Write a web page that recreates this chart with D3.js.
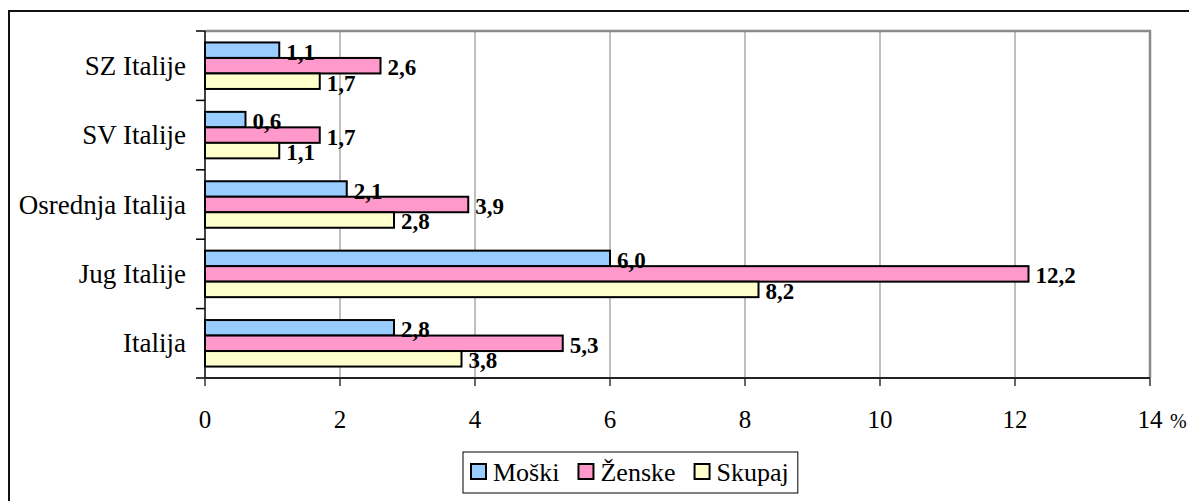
<!DOCTYPE html>
<html>
<head>
<meta charset="utf-8">
<script src="https://cdn.jsdelivr.net/npm/d3@7"></script>
<style>
html,body{margin:0;padding:0;background:#fff;}
</style>
</head>
<body>
<svg id="chart" width="1189" height="501"></svg>
<script>
const categories = ["SZ Italije", "SV Italije", "Osrednja Italija", "Jug Italije", "Italija"];
const seriesNames = ["Moški", "Ženske", "Skupaj"];
const moski  = [1.1, 0.6, 2.1, 6.0, 2.8];
const zenske = [2.6, 1.7, 3.9, 12.2, 5.3];
const skupaj = [1.7, 1.1, 2.8, 8.2, 3.8];
const xTicks = [0, 2, 4, 6, 8, 10, 12, 14];
const unitLabel = "%";
const colors = ["#99CCFF", "#FF99CC", "#FFFFCC"];

const seriesValues = [moski, zenske, skupaj];
const data = categories.map((c, i) => ({cat: c, vals: seriesNames.map((s, j) => ({s, v: seriesValues[j][i]}))}));

const svg = d3.select("#chart");
const L = 205, R = 1150, T = 31, B = 378;
const FF = "Liberation Serif";

// outer frame
svg.append("rect").attr("x", 9).attr("y", 11).attr("width", 1200).attr("height", 520)
  .attr("fill", "none").attr("stroke", "#111").attr("stroke-width", 2);

const x = d3.scaleLinear().domain([0, 14]).range([L, R]);
const y = d3.scaleBand().domain(categories).range([T, B]).paddingInner(0.33).paddingOuter(0.165);
const ys = d3.scaleBand().domain(seriesNames).range([0, y.bandwidth()]);

// gridlines
svg.append("g").selectAll("line").data(xTicks.filter(t => t > 0)).join("line")
  .attr("x1", d => x(d)).attr("x2", d => x(d)).attr("y1", T).attr("y2", B)
  .attr("stroke", "#808080").attr("stroke-width", 1);

// plot border (top & right)
svg.append("path").attr("d", `M${L},${T}H${R}V${B}`).attr("fill", "none")
  .attr("stroke", "#8a8a8a").attr("stroke-width", 2.5);

// bars
const g = svg.append("g").selectAll("g").data(data).join("g")
  .attr("transform", d => `translate(0,${y(d.cat)})`);
g.selectAll("rect").data(d => d.vals).join("rect")
  .attr("x", x(0)).attr("y", d => ys(d.s))
  .attr("width", d => x(d.v) - x(0)).attr("height", ys.bandwidth())
  .attr("fill", (d, i) => colors[i]).attr("stroke", "#000").attr("stroke-width", 2);
g.selectAll("text").data(d => d.vals).join("text")
  .attr("x", d => x(d.v) + 7).attr("y", d => ys(d.s) + ys.bandwidth() / 2 + 2)
  .attr("dominant-baseline", "central").style("font-family", FF)
  .attr("font-weight", "bold").attr("font-size", 23).attr("fill", "#000")
  .text(d => d3.format(".1f")(d.v).replace(".", ","));

// y axis
const yAxis = svg.append("g").attr("transform", `translate(${L},0)`);
yAxis.append("line").attr("x1", 0).attr("x2", 0).attr("y1", T).attr("y2", B)
  .attr("stroke", "#000").attr("stroke-width", 1.5);
const boundaries = d3.range(categories.length + 1).map(i => T + i * y.step());
yAxis.selectAll("line.t").data(boundaries).join("line").attr("class", "t")
  .attr("x1", -9).attr("x2", 0).attr("y1", d => d).attr("y2", d => d)
  .attr("stroke", "#000").attr("stroke-width", 1.5);
yAxis.selectAll("text").data(categories).join("text")
  .attr("x", -19).attr("y", d => y(d) + y.bandwidth() / 2)
  .attr("text-anchor", "end").attr("dominant-baseline", "central").style("font-family", FF)
  .attr("font-size", 27).attr("fill", "#000").text(d => d);

// x axis
const xAxis = svg.append("g").attr("transform", `translate(0,${B})`);
xAxis.append("line").attr("x1", L).attr("x2", R).attr("stroke", "#222").attr("stroke-width", 2);
xAxis.selectAll("line.t").data(xTicks).join("line").attr("class", "t")
  .attr("x1", d => x(d)).attr("x2", d => x(d)).attr("y1", 0).attr("y2", 8)
  .attr("stroke", "#333").attr("stroke-width", 1.5);
xAxis.selectAll("text").data(xTicks).join("text")
  .attr("x", d => x(d)).attr("y", 41).attr("text-anchor", "middle").style("font-family", FF)
  .attr("dominant-baseline", "central").attr("font-size", 25).attr("fill", "#000")
  .text(d => d);
xAxis.append("text").attr("x", x(14) + 20).attr("y", 43).attr("dominant-baseline", "central")
  .style("font-family", FF).attr("font-size", 20).attr("fill", "#000").text(unitLabel);

// legend
const lg = svg.append("g");
let lx = 471;
seriesNames.forEach((s, i) => {
  const it = lg.append("g");
  it.append("rect").attr("x", lx).attr("y", 464).attr("width", 15).attr("height", 15)
    .attr("fill", colors[i]).attr("stroke", "#000").attr("stroke-width", 2);
  const t = it.append("text").attr("x", lx + 22).attr("y", 472).attr("dominant-baseline", "central")
    .style("font-family", FF).attr("font-size", 26).attr("fill", "#000").text(s);
  lx += 22 + t.node().getComputedTextLength() + 19;
});
lg.insert("rect", ":first-child").attr("x", 463).attr("y", 452).attr("width", lx - 19 + 9 - 463).attr("height", 41)
  .attr("fill", "#fff").attr("stroke", "#000").attr("stroke-width", 1);
</script>
</body>
</html>
